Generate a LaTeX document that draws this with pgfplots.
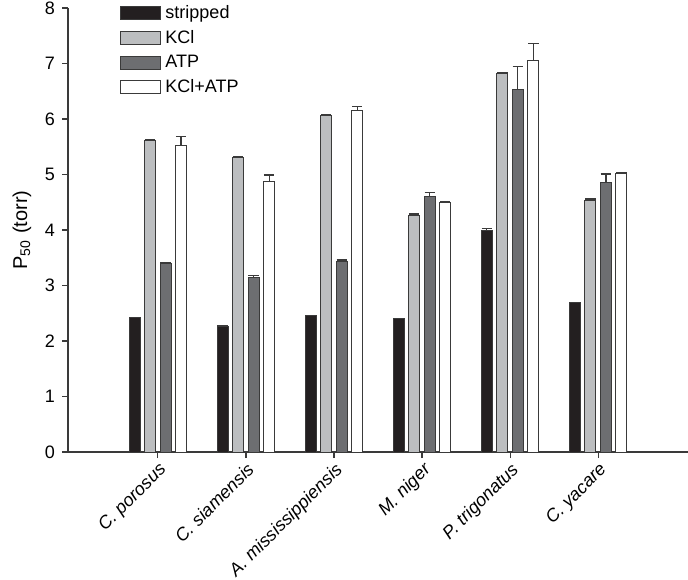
\documentclass[border=0pt]{standalone}
\usepackage{fontspec}
\setmainfont{Liberation Sans}
\usepackage{pgfplots}
\pgfplotsset{compat=1.18}

\definecolor{cStrip}{HTML}{231F20}
\definecolor{cKCl}{HTML}{BCBEC0}
\definecolor{cATP}{HTML}{6D6E71}
\definecolor{cEdge}{HTML}{3A3A3A}

\pgfplotsset{
  mybar/.style={
    draw=cEdge, line width=0.5pt, fill=#1,
    legend image code/.code={\draw[##1] (0pt,-3.3pt) rectangle (20pt,3.3pt);},
    error bars/y dir=plus,
    error bars/y explicit,
    error bars/error bar style={line width=0.6pt, color=cEdge},
    error bars/error mark options={rotate=90, mark size=2.6pt, line width=0.6pt, color=cEdge},
  },
}

\begin{document}
\begin{tikzpicture}
\begin{axis}[
  scale only axis,
  width=310pt,
  height=222pt,
  xmin=-1.02, xmax=6.02,
  ymin=0, ymax=8,
  axis lines=left,
  axis line style={-, line width=0.6pt, color=cEdge},
  ybar,
  bar width=0.125,
  tick align=outside,
  major tick length=3pt,
  tick style={line width=0.6pt, color=cEdge},
  ytick={0,1,...,8},
  xtick={0,...,5},
  xticklabels={C. porosus, C. siamensis, A. mississippiensis, M. niger, P. trigonatus, C. yacare},
  xticklabel style={rotate=45, anchor=north east, font=\fontsize{9}{10}\selectfont\itshape, inner sep=1pt},
  yticklabel style={font=\fontsize{9}{10}\selectfont},
  /pgf/number format/assume math mode=true,
  ylabel={P\textsubscript{50} (torr)},
  ylabel style={font=\fontsize{10}{11}\selectfont},
  legend cell align=left,
  legend style={draw=none, fill=none, at={(axis description cs:0.084,1.016)}, anchor=north west,
    font=\fontsize{9}{10}\selectfont, inner sep=0pt,
    /tikz/every even column/.append style={column sep=5pt},
    /tikz/row sep=0.4pt},
  clip=false,
]
\addplot[mybar=cStrip, bar shift=-0.264] coordinates {
  (0,2.42) +- (0,0) (1,2.27) +- (0,0) (2,2.46) +- (0,0)
  (3,2.41) +- (0,0) (4,3.99) +- (0,0.03) (5,2.70) +- (0,0)};
\addplot[mybar=cKCl, bar shift=-0.088] coordinates {
  (0,5.61) +- (0,0.02) (1,5.30) +- (0,0.02) (2,6.06) +- (0,0.02)
  (3,4.27) +- (0,0.02) (4,6.82) +- (0,0.02) (5,4.54) +- (0,0.02)};
\addplot[mybar=cATP, bar shift=0.088] coordinates {
  (0,3.40) +- (0,0.02) (1,3.14) +- (0,0.04) (2,3.44) +- (0,0.02)
  (3,4.60) +- (0,0.07) (4,6.53) +- (0,0.41) (5,4.86) +- (0,0.15)};
\addplot[mybar=white, bar shift=0.264] coordinates {
  (0,5.52) +- (0,0.16) (1,4.88) +- (0,0.11) (2,6.16) +- (0,0.06)
  (3,4.50) +- (0,0.02) (4,7.05) +- (0,0.31) (5,5.01) +- (0,0.02)};
\legend{stripped, KCl, ATP, KCl+ATP}
\end{axis}
\pgfresetboundingbox
\path (current axis.south west) ++(-34pt,-63.5pt) coordinate (bbA);
\path (current axis.north east) ++(0pt,4pt) coordinate (bbB);
\useasboundingbox (bbA) rectangle (bbB);
\end{tikzpicture}
\end{document}
